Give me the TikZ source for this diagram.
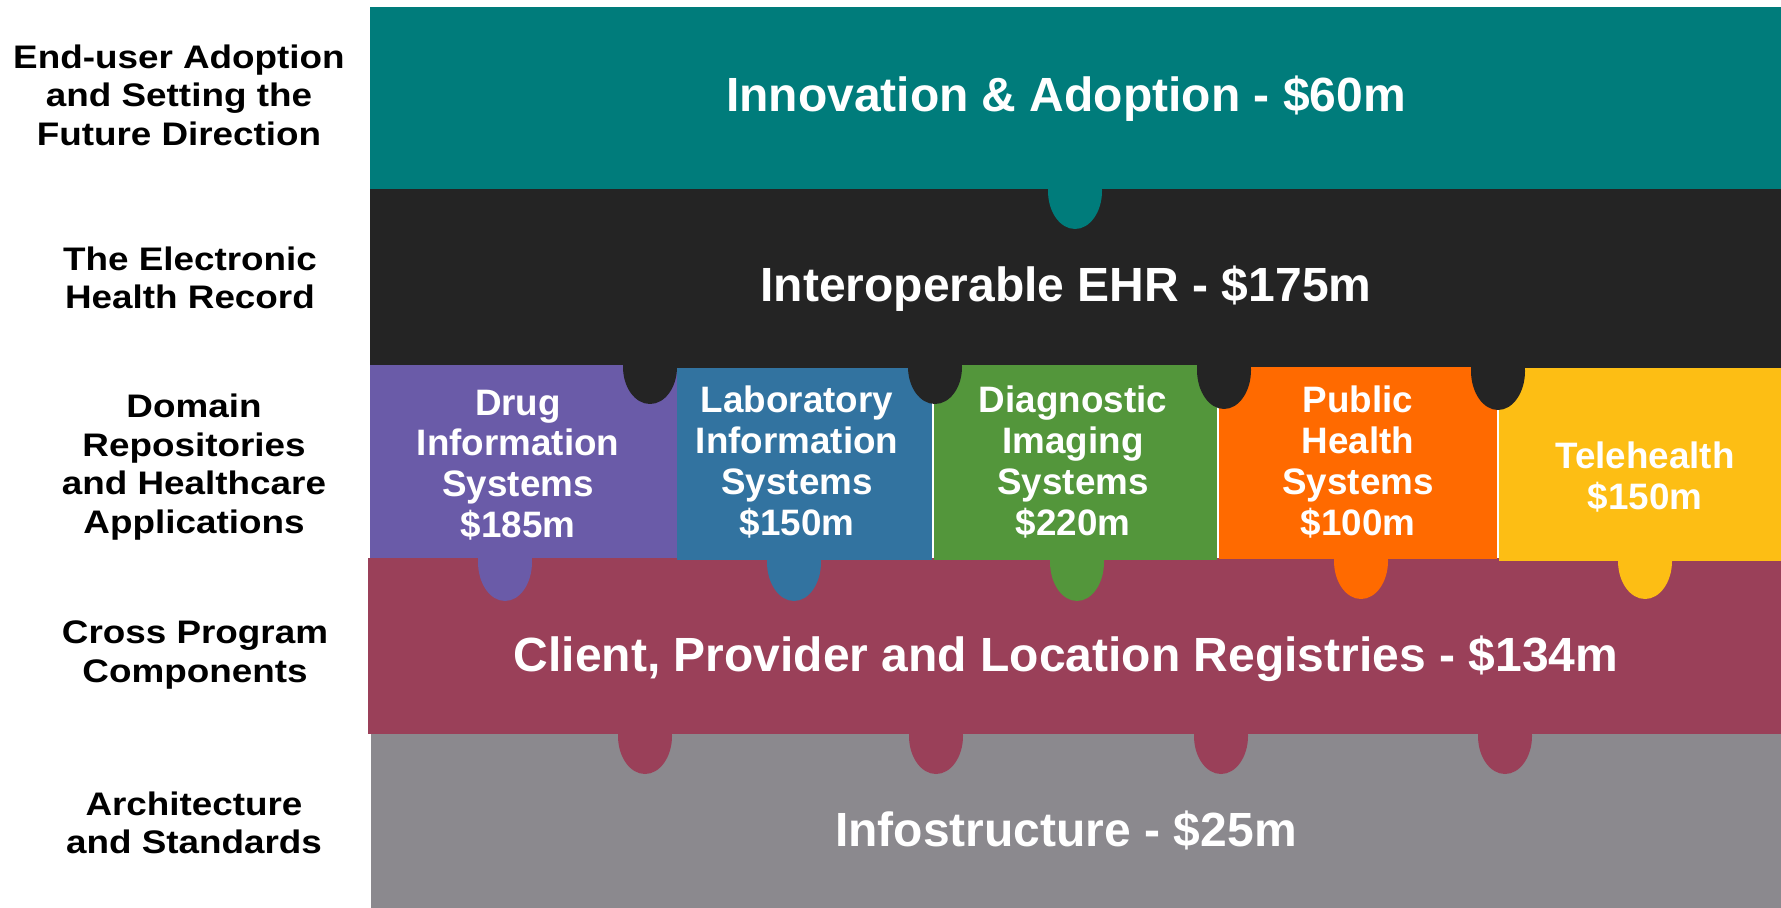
\documentclass[tikz,border=0pt]{standalone}
\usepackage{fontspec}
\setmainfont{Liberation Sans}
\newfontfamily\widefont[FakeStretch=1.13]{Liberation Sans}
\usepackage{tikz}
\definecolor{innoteal}{HTML}{007C7B}
\definecolor{ehrblack}{HTML}{242424}
\definecolor{drugpurple}{HTML}{6A5BA8}
\definecolor{labblue}{HTML}{3273A0}
\definecolor{diaggreen}{HTML}{53963B}
\definecolor{phorange}{HTML}{FF6A00}
\definecolor{teleyellow}{HTML}{FDBE14}
\definecolor{regmaroon}{HTML}{9A4059}
\definecolor{infogray}{HTML}{8B898E}

\begin{document}
\begin{tikzpicture}[x=0.5pt,y=-0.5pt,
  title/.style={anchor=base,text=white,inner sep=0pt,font=\bfseries\fontsize{24}{28}\selectfont},
  boxtext/.style={align=center,text=white,inner sep=0pt,font=\bfseries\fontsize{18.4}{20.4}\selectfont},
  side/.style={align=center,inner sep=0pt,font=\widefont\bfseries\fontsize{16.3}{19.3}\selectfont}]
\useasboundingbox (0,0) rectangle (1781,908);
% bands from the bottom up, so that each tab lies over the band below
\fill[infogray] (371,734) rectangle (1781,908);
\fill[regmaroon] (368,558) rectangle (1781,734);
\fill[regmaroon] (645,736) ellipse (27 and 38);
\fill[regmaroon] (936,736) ellipse (27 and 38);
\fill[regmaroon] (1221,736) ellipse (27 and 38);
\fill[regmaroon] (1505,736) ellipse (27 and 38);
\fill[ehrblack] (370,189) rectangle (1781,368);
\fill[innoteal] (370,7) rectangle (1781,189);
\fill[innoteal] (1075,191) ellipse (27 and 38);
% domain boxes
\fill[drugpurple] (370,365) rectangle (677,558);
\fill[labblue] (677,368) rectangle (932,560);
\fill[diaggreen] (933.5,365) rectangle (1217,560);
\fill[phorange] (1218.5,367) rectangle (1497,559);
\fill[teleyellow] (1498.5,368) rectangle (1781,561);
\fill[drugpurple] (505,562) ellipse (27 and 39);
\fill[labblue] (794,562) ellipse (27 and 39);
\fill[diaggreen] (1077,562) ellipse (27 and 39);
\fill[phorange] (1361,561) ellipse (27 and 38);
\fill[teleyellow] (1645,561) ellipse (27 and 38);
\fill[ehrblack] (650,367) ellipse (27 and 37);
\fill[ehrblack] (935,367) ellipse (27 and 37);
\fill[ehrblack] (1224,370) ellipse (27 and 39);
\fill[ehrblack] (1498,371) ellipse (27 and 39);
% band titles
\node (inno) at (1066,112)[title] {Innovation \& Adoption - \$60m};
\node (ehr) at (1066,302)[title] {Interoperable EHR - \$175m};
\node (reg) at (1066,671)[title] {Client, Provider and Location Registries - \$134m};
\node (infra) at (1066,846)[title] {Infostructure - \$25m};
% domain boxes text
\node (drug) at (518,465)[boxtext] {Drug\\Information\\Systems\\\$185m};
\node (lab) at (797,462)[boxtext] {Laboratory\\Information\\Systems\\\$150m};
\node (diag) at (1073,462)[boxtext] {Diagnostic\\Imaging\\Systems\\\$220m};
\node (pub) at (1358,462)[boxtext] {Public\\Health\\Systems\\\$100m};
\node (tele) at (1645,477)[boxtext] {Telehealth\\\$150m};
% level names on the left
\node (lvlinno) at (179,95)[side] {End-user Adoption\\and Setting the\\Future Direction};
\node (lvlehr) at (190,278)[side] {The Electronic\\Health Record};
\node (lvldom) at (194,467)[side] {Domain\\Repositories\\and Healthcare\\Applications};
\node (lvlreg) at (195,655)[side] {Cross Program\\Components};
\node (lvlinfra) at (194,823)[side] {Architecture\\and Standards};
\end{tikzpicture}
\end{document}
